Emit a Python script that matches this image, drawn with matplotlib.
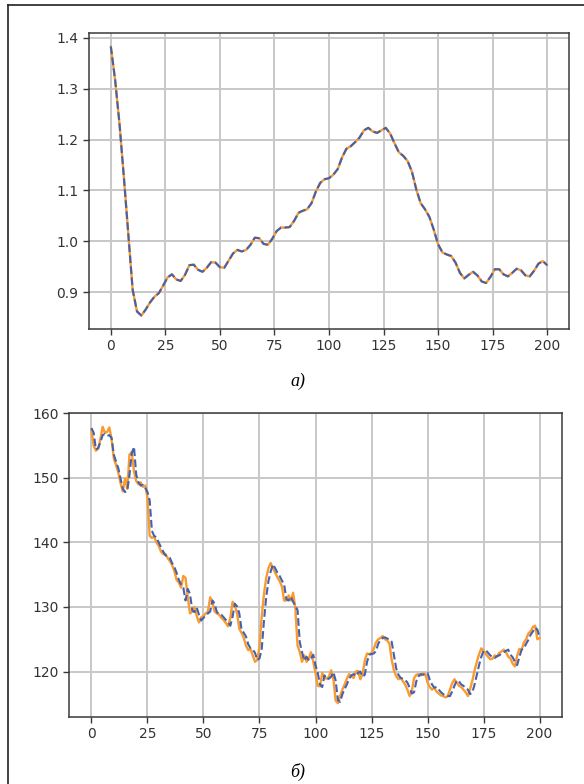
import matplotlib
matplotlib.use("Agg")
import matplotlib.pyplot as plt
from matplotlib.lines import Line2D

# ---- top panel (a) data ----
top_x = list(range(0, 201, 2))
top_vals = [1.383, 1.316, 1.230, 1.125, 1.015, 0.905, 0.862, 0.854, 0.866, 0.880,
            0.891, 0.898, 0.913, 0.929, 0.935, 0.925, 0.922, 0.934, 0.953, 0.954,
            0.944, 0.940, 0.948, 0.959, 0.958, 0.949, 0.948, 0.962, 0.976, 0.983,
            0.980, 0.983, 0.993, 1.007, 1.006, 0.995, 0.993, 1.005, 1.020, 1.027,
            1.027, 1.028, 1.040, 1.056, 1.060, 1.063, 1.075, 1.098, 1.115, 1.122,
            1.124, 1.131, 1.142, 1.165, 1.182, 1.187, 1.195, 1.204, 1.218, 1.223,
            1.216, 1.213, 1.218, 1.223, 1.212, 1.193, 1.175, 1.168, 1.158, 1.137,
            1.102, 1.075, 1.063, 1.048, 1.023, 0.994, 0.978, 0.974, 0.971, 0.958,
            0.938, 0.927, 0.934, 0.940, 0.933, 0.921, 0.918, 0.930, 0.945, 0.945,
            0.935, 0.931, 0.938, 0.946, 0.943, 0.933, 0.931, 0.942, 0.956, 0.961,
            0.953]
top_actual = top_vals
top_pred = top_vals

# ---- bottom panel (b) data ----
bot_x = list(range(0, 201))
bot_pred = [157.7, 157.0, 154.4, 154.6, 155.5, 156.6, 156.8, 156.5, 156.6, 156.2,
            153.6, 152.5, 151.5, 149.9, 148.3, 147.8, 148.0, 150.5, 153.8, 154.8,
            150.5, 149.3, 148.8, 148.9, 148.5, 147.8, 146.5, 141.8, 141.0, 140.8,
            140.0, 139.3, 138.6, 138.0, 137.9, 137.6, 136.8, 136.2, 135.3, 134.2,
            133.5, 133.0, 131.0, 132.8, 132.0, 129.5, 129.2, 129.9, 128.8, 127.9,
            128.3, 128.7, 129.0, 129.3, 131.0, 130.5, 129.2, 128.9, 128.8, 128.4,
            128.0, 127.6, 127.1, 128.5, 130.5, 130.1, 129.0, 126.5, 126.0, 125.4,
            124.2, 123.6, 123.4, 122.9, 121.8, 122.0, 123.5, 127.8, 131.5, 134.0,
            135.5, 136.6, 136.0, 135.3, 134.8, 134.1, 133.5, 131.2, 131.0, 131.6,
            130.8, 130.2, 129.5, 124.5, 123.0, 121.7, 122.3, 121.7, 122.0, 122.6,
            121.0, 119.8, 118.0, 117.6, 119.4, 118.8, 118.9, 119.2, 119.9, 118.6,
            115.6, 115.3, 116.5, 117.3, 118.0, 118.9, 119.4, 119.6, 119.3, 119.8,
            120.0, 119.2, 119.5, 121.5, 122.6, 122.7, 122.8, 123.2, 124.3, 124.9,
            125.2, 125.3, 125.1, 125.0, 124.6, 122.5, 120.5, 119.5, 119.0, 118.9,
            118.7, 118.3, 117.5, 116.6, 116.8, 118.5, 119.3, 119.6, 119.5, 119.6,
            119.8, 118.7, 118.0, 117.5, 117.6, 117.2, 116.8, 116.5, 116.3, 116.2,
            116.2, 116.9, 117.8, 118.6, 118.5, 118.0, 117.8, 117.4, 117.2, 116.5,
            116.8, 118.0, 119.5, 121.0, 122.3, 123.2, 123.3, 122.9, 122.5, 122.2,
            122.1, 122.4, 122.5, 122.8, 123.0, 123.2, 123.4, 122.6, 122.2, 121.5,
            121.0, 122.3, 123.4, 123.6, 124.3, 124.9, 125.7, 126.2, 126.8, 126.5,
            125.3]
bot_actual = [157.5, 155.0, 154.2, 154.5, 156.0, 157.9, 157.0, 157.1, 157.8, 156.0,
              153.0, 152.0, 150.8, 149.2, 147.9, 149.9, 148.3, 153.6, 154.0, 151.0,
              149.5, 149.0, 149.3, 148.6, 148.8, 147.0, 141.0, 140.7, 140.9, 140.0,
              139.5, 138.6, 138.2, 138.2, 137.6, 137.1, 136.5, 135.6, 134.2, 133.8,
              133.0, 134.8, 134.5, 131.5, 129.0, 129.3, 130.0, 128.6, 127.6, 128.4,
              128.6, 129.0, 129.3, 131.5, 130.8, 129.3, 129.0, 128.8, 128.3, 128.0,
              127.5, 127.0, 128.3, 130.8, 130.3, 129.0, 126.6, 126.0, 125.2, 124.0,
              123.3, 123.5, 122.5, 121.5, 121.8, 123.8, 128.5, 132.0, 134.5, 136.0,
              136.8, 136.0, 135.3, 134.6, 134.0, 133.2, 131.0, 131.0, 131.8, 131.0,
              132.2, 129.8, 124.0, 123.0, 121.5, 122.5, 121.5, 122.0, 123.0, 121.5,
              119.8, 117.8, 117.7, 119.8, 119.0, 118.9, 119.2, 120.2, 118.8, 115.5,
              115.1, 116.2, 117.2, 118.0, 118.9, 119.6, 119.3, 119.0, 120.0, 120.1,
              118.8, 119.6, 121.7, 122.8, 122.7, 122.9, 123.5, 124.5, 125.0, 125.2,
              125.5, 125.0, 124.8, 124.3, 121.8, 120.2, 119.3, 118.8, 119.0, 118.5,
              118.0, 117.2, 116.2, 117.0, 119.0, 119.5, 119.6, 119.4, 119.7, 119.6,
              118.3, 117.6, 117.2, 117.5, 116.9, 116.6, 116.3, 116.2, 116.0, 116.2,
              117.2, 118.2, 118.8, 118.3, 117.8, 117.6, 117.2, 116.8, 116.2, 117.3,
              118.6, 120.2, 121.5, 122.7, 123.6, 123.2, 122.7, 122.3, 121.9, 122.0,
              122.5, 122.3, 122.9, 123.1, 123.4, 123.0, 122.3, 122.0, 121.2, 120.8,
              122.5, 123.5, 123.4, 124.5, 125.0, 125.9, 126.2, 126.9, 127.1, 125.0,
              125.2]

xticks = [0, 25, 50, 75, 100, 125, 150, 175, 200]
top_yticks = [0.9, 1.0, 1.1, 1.2, 1.3, 1.4]
bot_yticks = [120, 130, 140, 150, 160]
captions = ["а)", "б)"]

ORANGE = "#fb9a2e"
BLUE = "#4361ad"
W, H = 584, 784

fig = plt.figure(figsize=(W / 100, H / 100), dpi=100)
fig.patch.set_facecolor("white")


def px_axes(l, t, r, b):
    return fig.add_axes([l / W, 1 - b / H, (r - l) / W, (b - t) / H])


def style(ax):
    ax.grid(True, color="#c8c8c8", linewidth=1.4)
    ax.set_axisbelow(True)
    for s in ax.spines.values():
        s.set_color("#3a3a3a")
        s.set_linewidth(1.1)
    ax.tick_params(labelsize=10, colors="#3a3a3a", labelcolor="#333333",
                   length=4, width=1.0)


ax1 = px_axes(89, 33, 569, 329)
ax1.plot(top_x, top_actual, color=ORANGE, lw=1.7, solid_capstyle="round")
ax1.plot(top_x, top_pred, color=BLUE, lw=1.5, ls="--")
ax1.set_xticks(xticks)
ax1.set_yticks(top_yticks)
ax1.set_yticklabels([f"{v:.1f}" for v in top_yticks])
style(ax1)

ax2 = px_axes(69, 413, 562, 717)
ax2.plot(bot_x, bot_actual, color=ORANGE, lw=1.7)
ax2.plot(bot_x, bot_pred, color=BLUE, lw=1.5, ls="--")
ax2.set_xticks(xticks)
ax2.set_yticks(bot_yticks)
style(ax2)

cap_font = dict(family=["Liberation Serif", "DejaVu Serif"], style="italic", size=13)
fig.text(298 / W, 1 - 381 / H, captions[0], ha="center", va="center", **cap_font)
fig.text(298 / W, 1 - 772 / H, captions[1], ha="center", va="center", **cap_font)

# outer frame
fig.add_artist(Line2D([8 / W, 8 / W], [0, 1 - 5 / H], transform=fig.transFigure,
                      color="#222222", lw=1.2))
fig.add_artist(Line2D([8 / W, 1], [1 - 5 / H, 1 - 5 / H], transform=fig.transFigure,
                      color="#222222", lw=1.2))

fig.savefig("out.png", dpi=100)
